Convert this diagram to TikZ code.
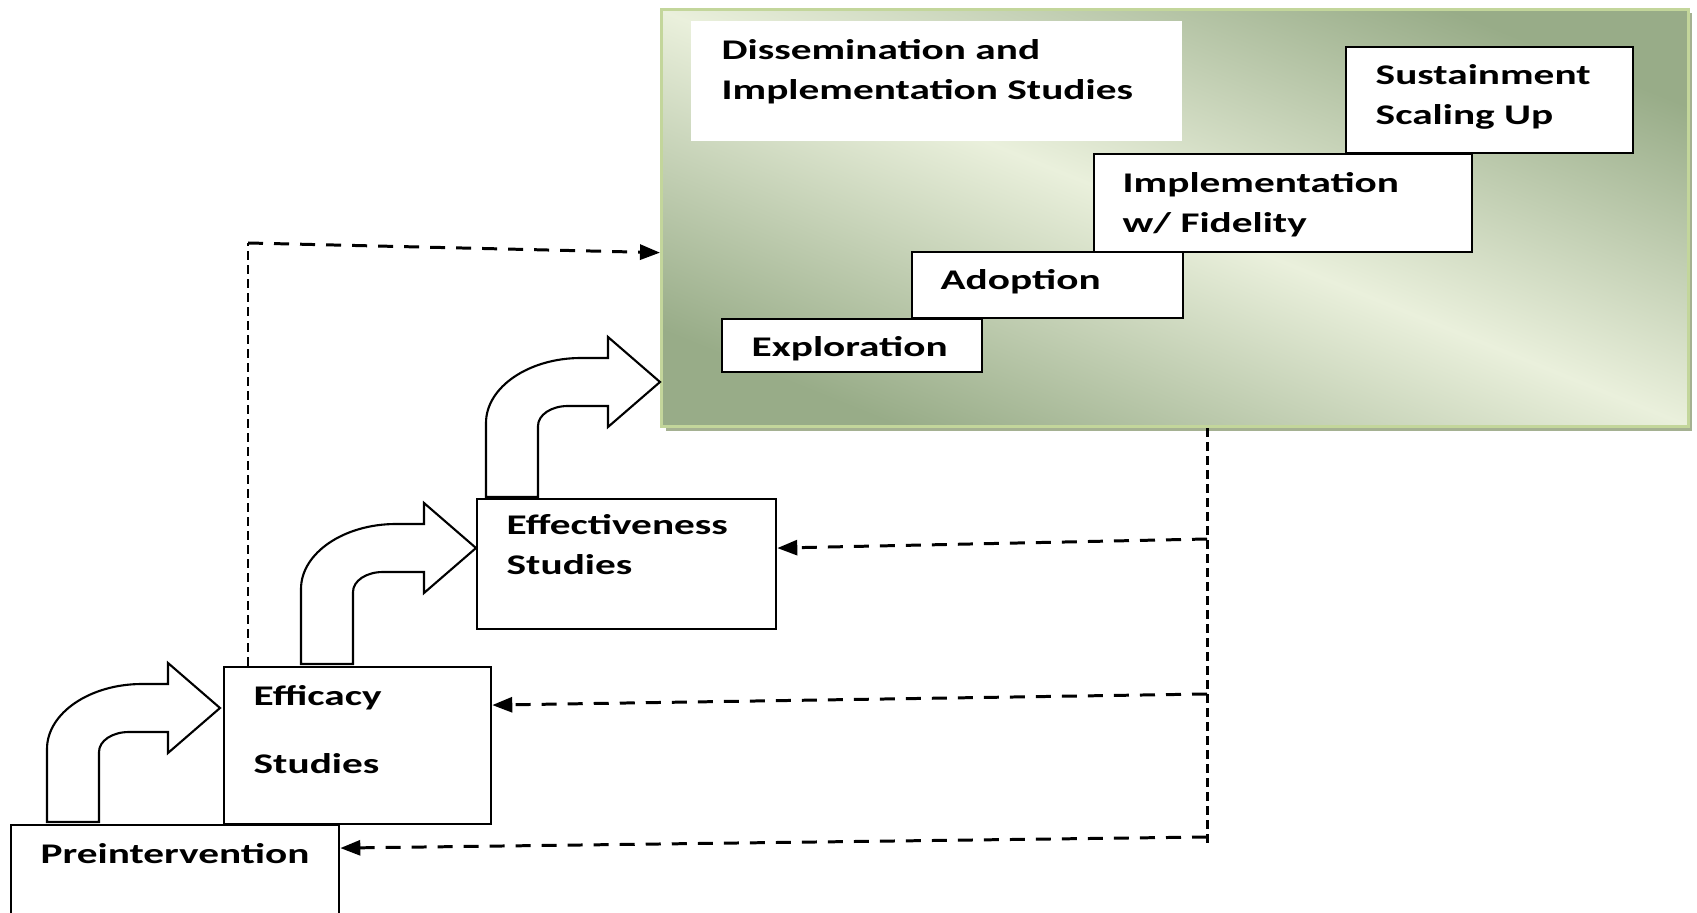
\documentclass[tikz,border=0pt]{standalone}
\usepackage{fontspec}
\usepackage{tikz}
\usetikzlibrary{positioning}
\usetikzlibrary{arrows.meta}
\usetikzlibrary{shadows}
\newfontfamily\stagefont{Carlito}[FakeStretch=1.45]
\definecolor{areadark}{HTML}{98AC88}
\definecolor{arealight}{HTML}{EAF0DC}
\definecolor{areaborder}{HTML}{C3D69B}
\definecolor{areashadow}{HTML}{A5B192}
\tikzset{
        % Green area of the later studies
        node_area/.style={rectangle, anchor=north west, draw=areaborder, line width=0.85pt,
            top color=areadark, bottom color=areadark, middle color=arealight, shading angle=-22,
            drop shadow={shadow xshift=0.04cm, shadow yshift=-0.04cm, fill=areashadow, opacity=1}},
        % White title field
        node_title/.style={rectangle, anchor=north west, fill=white, inner sep=0pt},
        % Stage boxes
        node_stage/.style={rectangle, anchor=north west, draw=black, line width=0.6pt, fill=white, inner sep=0pt},
        % Texts in the boxes (base = last line)
        node_label/.style={anchor=base west, inner sep=0pt, align=left,
            font=\stagefont\bfseries\fontsize{8.1pt}{11.5pt}\selectfont},
        % Bent block arrows
        block_arrow/.style={draw=black, line width=0.6pt, fill=white, line join=miter},
        % Feedback lines
        line_feedback/.style={line width=0.85pt, dash pattern=on 0.15cm off 0.11cm},
        line_feedback_v/.style={line width=0.85pt, dash pattern=on 0.09cm off 0.05cm},
        tip_feedback/.style={-{Triangle[length=0.2cm,width=0.15cm]}}
}
% #1,#2: foot of the outer shaft, #3,#4: tip of the head
\newcommand{\bentarrow}[4]{%
    \draw[block_arrow] (#1,#2) -- (#1,#4+41)
        .. controls (#1,#4+5) and (#1+43,#4-24) .. (#1+95,#4-24)
        -- (#3-52,#4-24) -- (#3-52,#4-45) -- (#3,#4) -- (#3-52,#4+45) -- (#3-52,#4+24)
        -- (#1+82,#4+24) .. controls (#1+65,#4+24) and (#1+52,#4+33) .. (#1+52,#4+44)
        -- (#1+52,#2) -- cycle;}

\begin{document}
\begin{tikzpicture}[x=0.01cm, y=-0.01cm]
    \useasboundingbox (0,0) rectangle (1697,913);

    % dissemination and implementation area
    \node[node_area, minimum width=10.26cm, minimum height=4.17cm] (area) at (660,8) {};
    \node[node_title, minimum width=4.91cm, minimum height=1.2cm] (title) at (690,20) {};
    \node[node_label] (title_text) at ([shift={(31,80)}]title.north west) {Dissemination and\\Implementation Studies};

    % stages inside the area
    \node[node_stage, minimum width=2.6cm, minimum height=0.53cm] (explore) at (721,318) {};
    \node[node_stage, minimum width=2.71cm, minimum height=0.66cm] (adopt) at (911,251) {};
    \node[node_stage, minimum width=3.78cm, minimum height=0.98cm] (implement) at (1093,153) {};
    \node[node_stage, minimum width=2.87cm, minimum height=1.06cm] (sustain) at (1345,46) {};
    \node[node_label] (explore_text) at ([shift={(30,39)}]explore.north west) {Exploration};
    \node[node_label] (adopt_text) at ([shift={(29,39)}]adopt.north west) {Adoption};
    \node[node_label] (implement_text) at ([shift={(29,80)}]implement.north west) {Implementation\\w/ Fidelity};
    \node[node_label] (sustain_text) at ([shift={(30,79)}]sustain.north west) {Sustainment\\Scaling Up};

    % research steps
    \node[node_stage, minimum width=3.28cm, minimum height=1.0cm] (pre) at (10,824) {};
    \node[node_stage, minimum width=2.67cm, minimum height=1.57cm] (effic) at (223,666) {};
    \node[node_stage, minimum width=2.99cm, minimum height=1.3cm] (effect) at (476,498) {};
    \node[node_label] (pre_text) at ([shift={(30,39)}]pre.north west) {Preintervention};
    \node[node_label] (effic_text) at ([shift={(30,107)}]effic.north west) {Efficacy\\[0.27cm]Studies};
    \node[node_label] (effect_text) at ([shift={(30,77)}]effect.north west) {Effectiveness\\Studies};

    % block arrows
    \bentarrow{47}{822}{220}{708}
    \bentarrow{301}{664}{476}{548}
    \bentarrow{486}{497}{660}{382}

    % feedback to the area
    \coordinate (fb_left) at (248,243);
    \draw[line_feedback_v] (effic.north -| fb_left) -- (fb_left);
    \draw[line_feedback, tip_feedback] (fb_left) -- ([yshift=-0.345cm]area.west);

    % feedback from the area
    \coordinate (fb_bottom) at (1207,847);
    \coordinate (fb_1) at (1207,539);
    \coordinate (fb_2) at (1207,694);
    \coordinate (fb_3) at (1207,837);
    \draw[line_feedback_v] (area.south -| fb_bottom) -- (fb_bottom);
    \draw[line_feedback, tip_feedback] (fb_1) -- ([yshift=0.16cm]effect.east);
    \draw[line_feedback, tip_feedback] (fb_2) -- ([yshift=0.405cm]effic.east);
    \draw[line_feedback, tip_feedback] (fb_3) -- ([yshift=0.27cm]pre.east);
\end{tikzpicture}
\end{document}
